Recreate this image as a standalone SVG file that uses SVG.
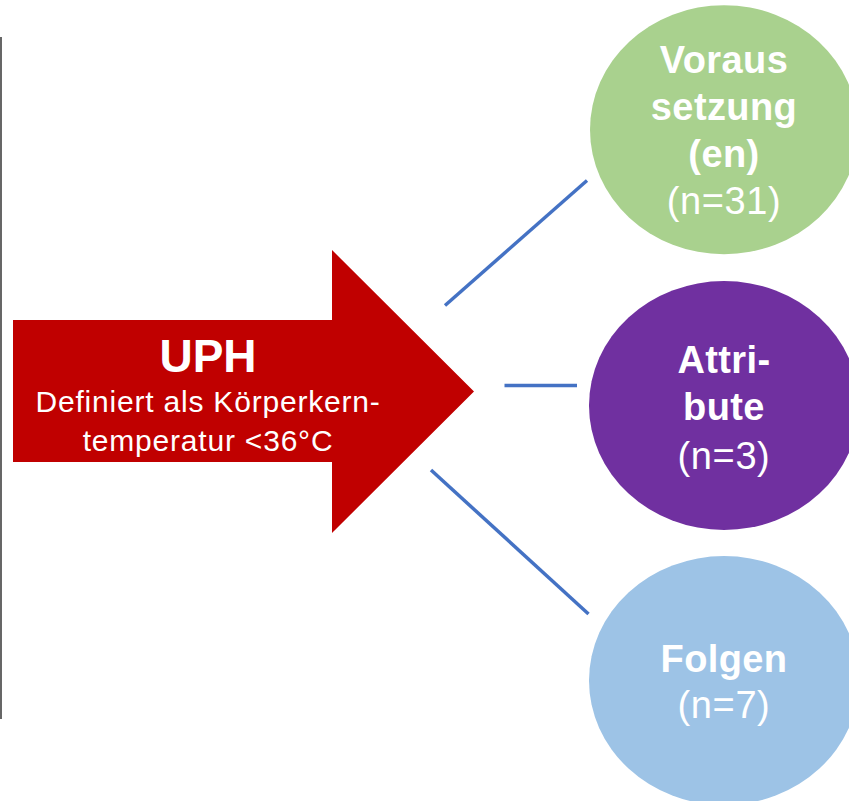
<svg xmlns="http://www.w3.org/2000/svg" width="849" height="801" viewBox="0 0 849 801">
<style>
.t{font-family:"Liberation Sans",Arial,sans-serif;fill:#fff;text-anchor:middle}
.b{font-weight:bold;font-size:38px;letter-spacing:0.4px}
.r{font-size:38px;letter-spacing:0.6px}
.s{font-size:30px;letter-spacing:0.8px}
.c{stroke:#4472C4;stroke-width:3.5;fill:none}
</style>
<rect width="849" height="801" fill="#fff"/>
<line x1="1" y1="37" x2="1" y2="719" stroke="#404040" stroke-width="1.6"/>
<g id="connectors">
<line class="c" x1="445" y1="305.5" x2="587" y2="180.5"/>
<line class="c" x1="504.5" y1="385.5" x2="577" y2="385.5"/>
<line class="c" x1="431" y1="470" x2="588.5" y2="614"/>
</g>
<g id="uph">
<polygon points="13,320 332,320 332,250 474,391.5 332,533 332,462 13,462" fill="#C00000"/>
<text class="t" x="208" y="371.5" font-size="46" font-weight="bold">UPH</text>
<text class="t s" x="208" y="412">Definiert als Körperkern-</text>
<text class="t s" x="208" y="450.5">temperatur &lt;36°C</text>
</g>
<g id="voraussetzungen">
<ellipse cx="724" cy="129.7" rx="134" ry="124.5" fill="#A9D18E"/>
<text class="t b" x="724" y="72.5">Voraus</text>
<text class="t b" x="724" y="119.5">setzung</text>
<text class="t b" x="724" y="166.5">(en)</text>
<text class="t r" x="724" y="214">(n=31)</text>
</g>
<g id="attribute">
<ellipse cx="724" cy="405.5" rx="135" ry="124.5" fill="#7030A0"/>
<text class="t b" x="724" y="372.5">Attri-</text>
<text class="t b" x="724" y="420">bute</text>
<text class="t r" x="724" y="469">(n=3)</text>
</g>
<g id="folgen">
<ellipse cx="724" cy="680.5" rx="135" ry="124.5" fill="#9DC3E6"/>
<text class="t b" x="724" y="671.5">Folgen</text>
<text class="t r" x="724" y="717.5">(n=7)</text>
</g>
</svg>
